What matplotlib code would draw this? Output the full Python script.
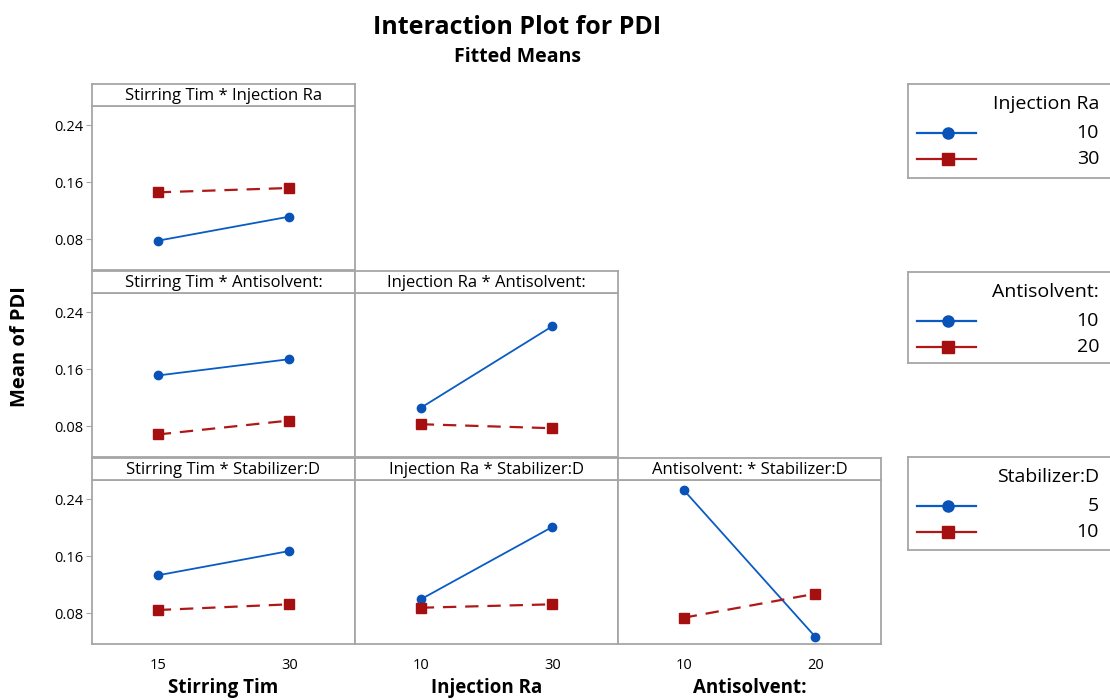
import matplotlib
matplotlib.use("Agg")
import matplotlib.pyplot as plt
from matplotlib.lines import Line2D

plt.rcParams['font.family'] = ['Open Sans', 'DejaVu Sans']

# ---- data ----
factor_names = ["Stirring Tim", "Injection Ra", "Antisolvent:", "Stabilizer:D"]
st_levels = [15, 30]
ir_levels = [10, 30]
as_levels = [10, 20]
sd_levels = [5, 10]

# Row 1: trace factor = Injection Ra (10, 30)
st_ir_10 = [0.0776, 0.1114]
st_ir_30 = [0.1455, 0.1516]
# Row 2: trace factor = Antisolvent (10, 20)
st_as_10 = [0.1509, 0.1738]
st_as_20 = [0.0681, 0.0877]
ir_as_10 = [0.1055, 0.2200]
ir_as_20 = [0.0825, 0.0769]
# Row 3: trace factor = Stabilizer:D (5, 10)
st_sd_5 = [0.1329, 0.1670]
st_sd_10 = [0.0842, 0.0922]
ir_sd_5 = [0.0992, 0.2007]
ir_sd_10 = [0.0874, 0.0922]
as_sd_5 = [0.2526, 0.0467]
as_sd_10 = [0.0734, 0.1070]

y_ticks = [0.08, 0.16, 0.24]
y_tick_labels = ["0.08", "0.16", "0.24"]

BLUE = '#0a5cc4'
BLUE_M = '#0852b8'
RED = '#b01818'
RED_M = '#a50f0f'
GRAY = '#a6a6a6'

x_levels = [st_levels, ir_levels, as_levels]
trace_levels = [ir_levels, as_levels, sd_levels]
panels = {
    (0, 0): (st_ir_10, st_ir_30),
    (1, 0): (st_as_10, st_as_20),
    (1, 1): (ir_as_10, ir_as_20),
    (2, 0): (st_sd_5, st_sd_10),
    (2, 1): (ir_sd_5, ir_sd_10),
    (2, 2): (as_sd_5, as_sd_10),
}

W, H = 1110, 700
fig = plt.figure(figsize=(W / 100, H / 100), dpi=100)

col_left = [92, 355, 618]
col_w = 263
row_top = [106, 293, 480]
row_h = 164
strip_h = 22
ylim = (0.0365, 0.2667)


def fx(x):
    return x / W


def fy(y):
    return 1 - y / H


for (r, c), (s1, s2) in panels.items():
    left = col_left[c]
    top = row_top[r]
    ax = fig.add_axes([fx(left), fy(top + row_h), col_w / W, row_h / H])
    lv = x_levels[c]
    d = lv[1] - lv[0]
    ax.plot(lv, s1, color=BLUE, lw=1.3, marker='o', ms=6,
            mfc=BLUE_M, mec=BLUE_M, zorder=3)
    ax.plot(lv, s2, color=RED, lw=1.6, ls=(0, (6, 4)), marker='s', ms=7,
            mfc=RED_M, mec=RED_M, zorder=3)
    ax.set_xlim(lv[0] - d / 2, lv[1] + d / 2)
    ax.set_ylim(*ylim)
    for sp in ax.spines.values():
        sp.set_color(GRAY)
        sp.set_linewidth(1.3)
    ax.set_yticks(y_ticks)
    ax.set_xticks(lv)
    if c == 0:
        ax.set_yticklabels(y_tick_labels, fontsize=10.5)
        ax.tick_params(axis='y', length=4, color=GRAY, pad=2)
    else:
        ax.tick_params(axis='y', length=0, labelleft=False)
    if r == 2:
        ax.set_xticklabels([str(v) for v in lv], fontsize=10.5)
        ax.tick_params(axis='x', length=0, pad=10)
        ax.set_xlabel(factor_names[c], fontsize=13.5, fontweight='bold', labelpad=4)
    else:
        ax.tick_params(axis='x', length=0, labelbottom=False)

    sax = fig.add_axes([fx(left), fy(top), col_w / W, strip_h / H])
    sax.set_xticks([])
    sax.set_yticks([])
    for sp in sax.spines.values():
        sp.set_color(GRAY)
        sp.set_linewidth(1.3)
    sax.text(0.5, 0.45, f"{factor_names[c]} * {factor_names[r + 1]}",
             ha='center', va='center', fontsize=12, transform=sax.transAxes)

# Titles
fig.text(fx(517), fy(27), "Interaction Plot for PDI", ha='center', va='center',
         fontsize=18, fontweight='bold')
fig.text(fx(517), fy(57), "Fitted Means", ha='center', va='center',
         fontsize=14, fontweight='bold')
fig.text(fx(20), fy(347), "Mean of PDI", ha='center', va='center',
         rotation=90, fontsize=14.5, fontweight='bold')

# Legends
leg_boxes = [(84, 178), (272, 363), (457, 550)]
for i, (t, b) in enumerate(leg_boxes):
    lax = fig.add_axes([fx(908), fy(b), (1120 - 908) / W, (b - t) / H])
    lax.set_xlim(908, 1120)
    lax.set_ylim(b, t)
    lax.set_xticks([])
    lax.set_yticks([])
    for sp in lax.spines.values():
        sp.set_color(GRAY)
        sp.set_linewidth(1.3)
    lax.text(1099, t + 20, factor_names[i + 1], ha='right', va='center', fontsize=14)
    lv = trace_levels[i]
    ys = [t + 49, t + 75]
    lax.add_line(Line2D([917, 976], [ys[0], ys[0]], color=BLUE, lw=1.6))
    lax.add_line(Line2D([948], [ys[0]], marker='o', ms=8, mfc=BLUE_M, mec=BLUE_M, lw=0))
    lax.add_line(Line2D([917, 976], [ys[1], ys[1]], color=RED, lw=1.6))
    lax.add_line(Line2D([948], [ys[1]], marker='s', ms=8.5, mfc=RED_M, mec=RED_M, lw=0))
    lax.text(1099, ys[0], str(lv[0]), ha='right', va='center', fontsize=14)
    lax.text(1099, ys[1], str(lv[1]), ha='right', va='center', fontsize=14)

fig.savefig("out.png", dpi=100)
